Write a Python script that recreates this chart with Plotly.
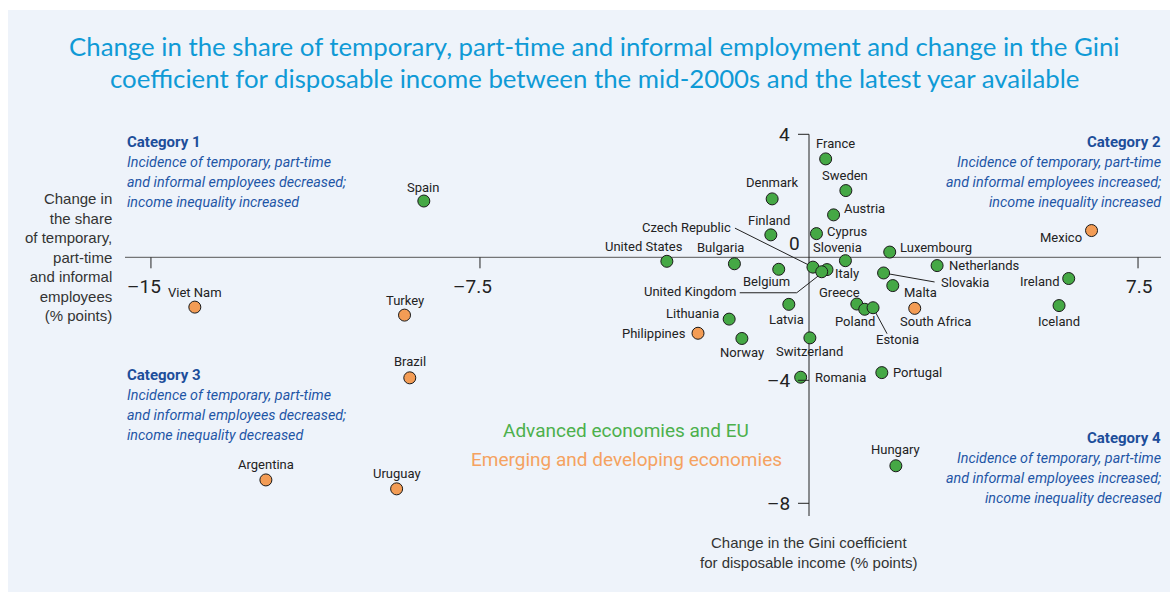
import plotly.graph_objects as go

# ---------------- data ----------------
adv_names = ["France", "Sweden", "Austria", "Cyprus", "Denmark", "Finland", "Czech Republic",
             "United States", "Bulgaria", "Slovenia", "Luxembourg", "Netherlands", "Belgium",
             "Italy", "United Kingdom", "Greece", "Slovakia", "Malta", "Poland", "Estonia",
             "Latvia", "Lithuania", "Norway", "Switzerland", "Romania", "Portugal", "Spain",
             "Ireland", "Iceland", "Hungary"]
adv_x = [0.38, 0.84, 0.56, 0.17, -0.84, -0.87, 0.09,
         -3.24, -1.70, 0.83, 1.84, 2.92, -0.69,
         0.41, 0.29, 1.09, 1.70, 1.91, 1.27, 1.46,
         -0.46, -1.82, -1.53, 0.02, -0.19, 1.66, -8.78,
         5.92, 5.70, 1.98]
adv_y = [3.20, 2.17, 1.38, 0.77, 1.90, 0.73, -0.32,
         -0.13, -0.21, -0.11, 0.17, -0.27, -0.39,
         -0.40, -0.47, -1.52, -0.51, -0.92, -1.69, -1.64,
         -1.53, -2.01, -2.64, -2.62, -3.90, -3.75, 1.83,
         -0.69, -1.57, -6.78]

em_names = ["Mexico", "South Africa", "Philippines", "Viet Nam", "Turkey", "Brazil",
            "Argentina", "Uruguay"]
em_x = [6.44, 2.41, -2.53, -14.0, -9.22, -9.10, -12.38, -9.40]
em_y = [0.87, -1.66, -2.47, -1.62, -1.88, -3.92, -7.24, -7.53]

x_tick_vals = [-15, -7.5, 7.5]
x_tick_text = ["\u201315", "\u20137.5", "7.5"]
y_tick_vals = [4, -4, -8]
y_tick_text = ["4", "\u20134", "\u20138"]

title_lines = ["Change in the share of temporary, part-time and informal employment and change in the Gini",
               "coefficient for disposable income between the mid-2000s and the latest year available"]
legend_adv = "Advanced economies and EU"
legend_em = "Emerging and developing economies"
x_title = ["Change in", "the share", "of temporary,", "part-time", "and informal", "employees", "(% points)"]
y_title = ["Change in the Gini coefficient", "for disposable income (% points)"]
categories = [
    ("Category 1", ["Incidence of temporary, part-time", "and informal employees decreased;", "income inequality increased"]),
    ("Category 2", ["Incidence of temporary, part-time", "and informal employees increased;", "income inequality increased"]),
    ("Category 3", ["Incidence of temporary, part-time", "and informal employees decreased;", "income inequality decreased"]),
    ("Category 4", ["Incidence of temporary, part-time", "and informal employees increased;", "income inequality decreased"]),
]

# ---------------- layout geometry (pixels) ----------------
W, H = 1170, 592
X0PX, XS = 809.0, 43.87     # pixel of x=0, pixels per unit
Y0PX, YS = 257.3, 30.75     # pixel of y=0, pixels per unit
xr = [(0 - X0PX) / XS, (W - X0PX) / XS]
yr = [(Y0PX - H) / YS, (Y0PX - 0) / YS]

def px_x(p):
    return (p - X0PX) / XS

def px_y(p):
    return (Y0PX - p) / YS

NARROW = "Roboto, sans-serif"
REG = "Liberation Sans, Arial, sans-serif"
GREEN = "#45a845"
ORANGE = "#f39c55"
BLUE_T = "#1f56a6"
AXC = "#222222"

# label placement: anchor, dx(px), dy(px, up positive)
label_pos = {
    "France": ("center", 10, 15), "Sweden": ("center", -1, 15), "Austria": ("left", 8, 6),
    "Cyprus": ("left", 9, 2), "Denmark": ("center", 0, 16), "Finland": ("center", -2, 14),
    "Czech Republic": ("right", -80, 40), "United States": ("center", -23, 15),
    "Bulgaria": ("center", -14, 16), "Slovenia": ("center", -8, 13), "Luxembourg": ("left", 8, 5),
    "Netherlands": ("left", 10, 0), "Belgium": ("center", -12, -12), "Italy": ("left", 6, -4),
    "United Kingdom": ("right", -84, -20), "Greece": ("center", -17, 12),
    "Slovakia": ("left", 55, -10), "Malta": ("left", 9, -7), "Poland": ("center", -10, -12),
    "Estonia": ("center", 24, -32), "Latvia": ("center", -2, -15), "Lithuania": ("center", -37, 6),
    "Norway": ("center", 0, -14), "Switzerland": ("center", 0, -14), "Romania": ("left", 12, 0),
    "Portugal": ("left", 9, 0), "Spain": ("center", -1, 14), "Ireland": ("right", -8, -3),
    "Iceland": ("center", 0, -16), "Hungary": ("center", 0, 16),
    "Mexico": ("right", -8, -7), "South Africa": ("center", 21, -13), "Philippines": ("right", -10, 0),
    "Viet Nam": ("center", 0, 15), "Turkey": ("center", 0, 15), "Brazil": ("center", 0, 16),
    "Argentina": ("center", 0, 15), "Uruguay": ("center", 0, 15),
}
leaders = {
    "Czech Republic": [(0, 0), (-78, 39)],
    "United Kingdom": [(-2, -3), (-25, -21), (-82, -21)],
    "Slovakia": [(0, 0), (51, -9)],
    "Estonia": [(0, 0), (14, -26)],
}

fig = go.Figure()

# leader lines
all_pts = dict(zip(adv_names, zip(adv_x, adv_y)))
all_pts.update(dict(zip(em_names, zip(em_x, em_y))))
for name, wps in leaders.items():
    px0, py0 = all_pts[name]
    fig.add_trace(go.Scatter(
        x=[px0 + dx / XS for dx, dy in wps], y=[py0 + dy / YS for dx, dy in wps],
        mode="lines", line=dict(color=AXC, width=1), hoverinfo="skip", showlegend=False))

fig.add_trace(go.Scatter(x=adv_x, y=adv_y, mode="markers", text=adv_names, showlegend=False,
                         marker=dict(size=12, color=GREEN, line=dict(color="#1a1a1a", width=1))))
fig.add_trace(go.Scatter(x=em_x, y=em_y, mode="markers", text=em_names, showlegend=False,
                         marker=dict(size=12, color=ORANGE, line=dict(color="#1a1a1a", width=1))))

shapes = [
    dict(type="rect", xref="paper", yref="paper", x0=8 / W, x1=1, y0=0, y1=1 - 10 / H,
         fillcolor="#eef3fa", line=dict(width=0), layer="below"),
    dict(type="line", x0=px_x(125), x1=px_x(1161), y0=0, y1=0, line=dict(color="#555", width=1), layer="below"),
    dict(type="line", x0=0, x1=0, y0=4, y1=px_y(516), line=dict(color=AXC, width=1), layer="below"),
]
for v in x_tick_vals:
    shapes.append(dict(type="line", x0=v, x1=v, y0=0, y1=-11 / YS, line=dict(color=AXC, width=1)))
for v in y_tick_vals:
    shapes.append(dict(type="line", x0=-11 / XS, x1=0, y0=v, y1=v, line=dict(color=AXC, width=1)))

ann = []
for v, t in zip(x_tick_vals, x_tick_text):
    ann.append(dict(x=v, y=0, text=t, showarrow=False, xanchor="center", yanchor="middle",
                    xshift=-7 if v < 0 else 1, yshift=-29, font=dict(family=NARROW, size=19, color=AXC)))
for v, t in zip(y_tick_vals, y_tick_text):
    ann.append(dict(x=0, y=v, text=t, showarrow=False, xanchor="right", yanchor="middle",
                    xshift=-17, yshift=0, font=dict(family=NARROW, size=19, color=AXC)))
ann.append(dict(x=0, y=0, text="0", showarrow=False, xanchor="right", yanchor="middle",
                xshift=-7, yshift=14, font=dict(family=NARROW, size=19, color=AXC)))

# country labels
for names, xs, ys in ((adv_names, adv_x, adv_y), (em_names, em_x, em_y)):
    for n, xv, yv in zip(names, xs, ys):
        a, dx, dy = label_pos[n]
        ann.append(dict(x=xv, y=yv, text=n, showarrow=False, xanchor=a, yanchor="middle",
                        xshift=dx, yshift=dy, font=dict(family=NARROW, size=13, color="#222")))

# title
for i, t in enumerate(title_lines):
    ann.append(dict(x=594 / W, y=1 - (46 + 32 * i) / H, xref="paper", yref="paper", text=t,
                    showarrow=False, xanchor="center", yanchor="middle",
                    font=dict(family="Lato, Noto Sans, sans-serif", size=25.8, color="#0f9ad6")))

# axis titles
ann.append(dict(x=114 / W, y=1 - 257 / H, xref="paper", yref="paper", text="<br>".join(x_title),
                showarrow=False, xanchor="right", yanchor="middle", align="right",
                font=dict(family=REG, size=15, color="#333")))
ann.append(dict(x=809 / W, y=1 - 552 / H, xref="paper", yref="paper", text="<br>".join(y_title),
                showarrow=False, xanchor="center", yanchor="middle", align="center",
                font=dict(family=REG, size=15, color="#333")))

# legend texts
ann.append(dict(x=626 / W, y=1 - 430 / H, xref="paper", yref="paper", text=legend_adv, showarrow=False,
                xanchor="center", yanchor="middle", font=dict(family=NARROW, size=19, color="#4cb04c")))
ann.append(dict(x=626 / W, y=1 - 460 / H, xref="paper", yref="paper", text=legend_em, showarrow=False,
                xanchor="center", yanchor="middle", font=dict(family=NARROW, size=19, color="#f5a260")))

# category texts
cat_pos = [(125, 142, "left"), (1163, 142, "right"), (125, 375, "left"), (1163, 438, "right")]
for (head, lines), (cx, cy, al) in zip(categories, cat_pos):
    ann.append(dict(x=cx / W, y=1 - cy / H, xref="paper", yref="paper", text="<b>" + head + "</b>",
                    showarrow=False, xanchor=al, yanchor="middle",
                    font=dict(family=NARROW, size=15, color="#1d4e9a")))
    for j, ln in enumerate(lines):
        ann.append(dict(x=cx / W, y=1 - (cy + 20 * (j + 1)) / H, xref="paper", yref="paper",
                        text="<i>" + ln + "</i>", showarrow=False, xanchor=al, yanchor="middle",
                        font=dict(family=NARROW, size=14.3, color=BLUE_T)))

fig.update_layout(
    width=W, height=H, margin=dict(l=0, r=0, t=0, b=0),
    paper_bgcolor="white", plot_bgcolor="rgba(0,0,0,0)",
    xaxis=dict(range=xr, visible=False, fixedrange=True),
    yaxis=dict(range=yr, visible=False, fixedrange=True),
    shapes=shapes, annotations=ann, showlegend=False,
)

fig.write_html("out.html", config={"displayModeBar": False},
               post_script="document.body.style.margin='0';document.body.style.overflow='hidden';")
